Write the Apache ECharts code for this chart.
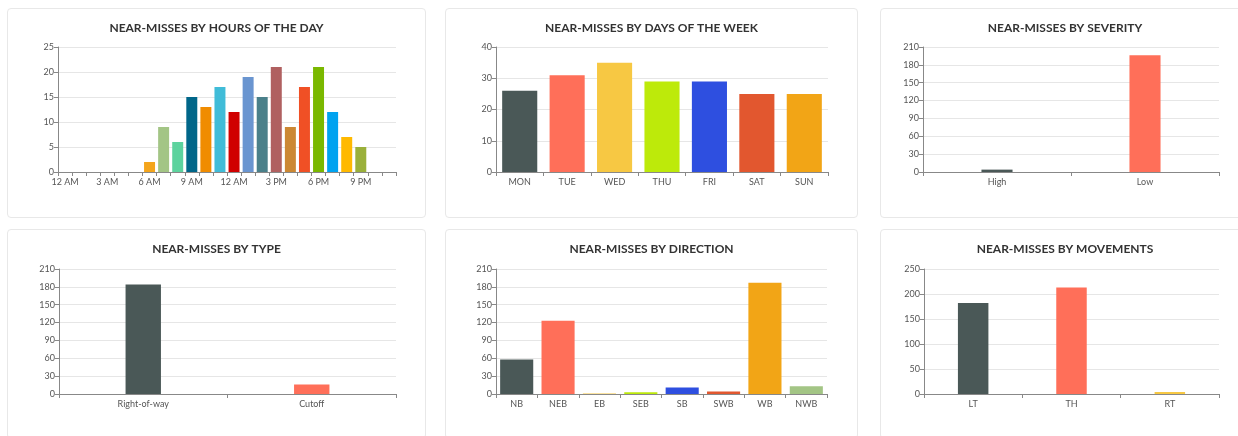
<!DOCTYPE html>
<html>
<head>
<meta charset="utf-8">
<title>Near-misses</title>
<script src="https://cdn.jsdelivr.net/npm/echarts@6/dist/echarts.min.js"></script>
<style>
  html, body { margin: 0; padding: 0; background: #fff; overflow: hidden; }
  .card {
    position: absolute;
    height: 208px;
    border: 1px solid #e8e8e8;
    border-radius: 4px;
    background: #fff;
  }
</style>
</head>
<body>
<div class="card" id="hourChart" style="left:7px; top:8px; width:417px;"></div>
<div class="card" id="dayChart" style="left:445px; top:8px; width:411px;"></div>
<div class="card" id="severityChart" style="left:880px; top:8px; width:368px;"></div>
<div class="card" id="typeChart" style="left:7px; top:229px; width:417px;"></div>
<div class="card" id="directionChart" style="left:445px; top:229px; width:411px;"></div>
<div class="card" id="movementChart" style="left:880px; top:229px; width:368px;"></div>

<script>
// hours of the day (the source labels noon as "12 AM")
const hourLabels = ['12 AM', '1 AM', '2 AM', '3 AM', '4 AM', '5 AM', '6 AM', '7 AM', '8 AM', '9 AM', '10 AM', '11 AM',
  '12 AM', '1 PM', '2 PM', '3 PM', '4 PM', '5 PM', '6 PM', '7 PM', '8 PM', '9 PM', '10 PM', '11 PM'];
const hourValues = [0, 0, 0, 0, 0, 0, 2, 9, 6, 15, 13, 17, 12, 19, 15, 21, 9, 17, 21, 12, 7, 5, 0, 0];

const dayLabels = ['MON', 'TUE', 'WED', 'THU', 'FRI', 'SAT', 'SUN'];
const dayValues = [26, 31, 35, 29, 29, 25, 25];

const severityLabels = ['High', 'Low'];
const severityValues = [4, 196];

const typeLabels = ['Right-of-way', 'Cutoff'];
const typeValues = [184, 16];

const directionLabels = ['NB', 'NEB', 'EB', 'SEB', 'SB', 'SWB', 'WB', 'NWB'];
const directionValues = [58, 123, 1, 3, 11, 4, 187, 13];

const movementLabels = ['LT', 'TH', 'RT'];
const movementValues = [182, 213, 4];

// colours
const hourColors = ['#f5a623', '#f5a623', '#f5a623', '#f5a623', '#f5a623', '#f5a623',
  '#f4a51c', '#a3c585', '#5dd39e', '#006689', '#f08c00', '#40bcd8', '#d00000', '#6a95d0',
  '#4a808a', '#b06060', '#cc8833', '#f05025', '#7ab800', '#00a3f0', '#ffb900', '#9ab03a',
  '#9ab03a', '#9ab03a'];
const palette = ['#4a5857', '#ff6f59', '#f7c843', '#bdea0a', '#2e4fe0', '#e2572f', '#f2a516', '#a3c585'];
const dayColors = ['#4a5857', '#ff6f59', '#f7c843', '#bdea0a', '#2e4fe0', '#e2572f', '#f2a516'];

const FONT = 'Lato, "Open Sans", sans-serif';

function renderBar(id, cfg) {
  const chart = echarts.init(document.getElementById(id));
  const option = {
    animation: false,
    title: {
      text: cfg.title,
      left: 'center',
      top: 8,
      textStyle: { fontSize: 12, fontWeight: 'bold', color: '#333', fontFamily: FONT }
    },
    grid: {
      left: cfg.grid[0],
      top: cfg.grid[1],
      right: cfg.grid[2],
      bottom: cfg.grid[3],
      containLabel: false,
      outerBoundsMode: 'none'
    },
    xAxis: {
      type: 'category',
      data: cfg.labels,
      axisLine: { lineStyle: { color: '#888' } },
      axisTick: { show: true, length: 4, interval: 0, lineStyle: { color: '#888' } },
      axisLabel: {
        interval: cfg.labelInterval || 0,
        color: '#555',
        fontSize: 9,
        fontFamily: FONT,
        margin: 6
      }
    },
    yAxis: {
      type: 'value',
      min: 0,
      max: cfg.max,
      interval: cfg.interval,
      axisLine: { show: true, lineStyle: { color: '#888' } },
      axisTick: { show: true, length: 4, lineStyle: { color: '#888' } },
      axisLabel: { color: '#555', fontSize: 9, fontFamily: FONT, margin: 4 },
      splitLine: { lineStyle: { color: '#e6e6e6' } }
    },
    series: [{
      type: 'bar',
      barWidth: cfg.barWidth,
      data: cfg.values.map((v, i) => ({ value: v, itemStyle: { color: cfg.colors[i] } }))
    }]
  };
  chart.setOption(option);
}

renderBar('hourChart', {
  title: 'NEAR-MISSES BY HOURS OF THE DAY',
  labels: hourLabels, values: hourValues, colors: hourColors,
  max: 25, interval: 5, labelInterval: 2, barWidth: '78%',
  grid: [50, 38, 29, 45]
});

renderBar('dayChart', {
  title: 'NEAR-MISSES BY DAYS OF THE WEEK',
  labels: dayLabels, values: dayValues, colors: dayColors,
  max: 40, interval: 10, barWidth: '74%',
  grid: [50, 38, 29, 45]
});

renderBar('severityChart', {
  title: 'NEAR-MISSES BY SEVERITY',
  labels: severityLabels, values: severityValues, colors: palette,
  max: 210, interval: 30, barWidth: '21%',
  grid: [42, 38, 30, 45]
});

renderBar('typeChart', {
  title: 'NEAR-MISSES BY TYPE',
  labels: typeLabels, values: typeValues, colors: palette,
  max: 210, interval: 30, barWidth: '21%',
  grid: [51, 39, 29, 44]
});

renderBar('directionChart', {
  title: 'NEAR-MISSES BY DIRECTION',
  labels: directionLabels, values: directionValues, colors: palette,
  max: 210, interval: 30, barWidth: '80%',
  grid: [50, 39, 30, 44]
});

renderBar('movementChart', {
  title: 'NEAR-MISSES BY MOVEMENTS',
  labels: movementLabels, values: movementValues, colors: palette,
  max: 250, interval: 50, barWidth: '31%',
  grid: [43, 39, 30, 44]
});
</script>
</body>
</html>
